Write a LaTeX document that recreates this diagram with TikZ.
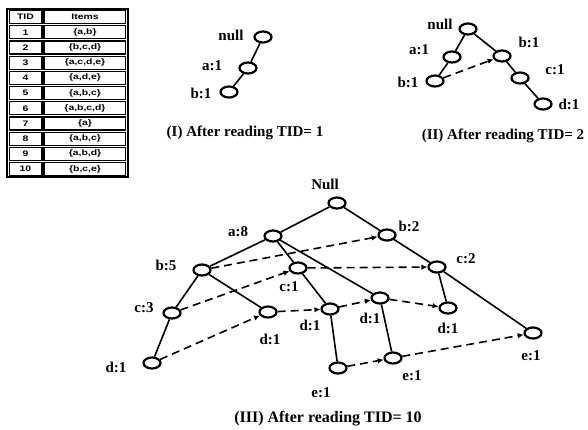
\documentclass[tikz,border=0pt]{standalone}
\usepackage{fontspec}
\setmainfont{Liberation Serif}
\newfontfamily\tabfont{Liberation Sans}
\usetikzlibrary{shapes.geometric,arrows.meta}
\begin{document}
\begin{tikzpicture}[x=1pt,y=-1pt,
  nd/.style={ellipse,draw,line width=2.2pt,minimum width=17pt,minimum height=11pt,inner sep=0pt},
  lb/.style={font=\fontsize{15}{17}\selectfont\bfseries,inner sep=0pt},
  captxt/.style={font=\fontsize{15}{17}\selectfont\bfseries,inner sep=0pt},
  captbig/.style={font=\fontsize{16}{18}\selectfont\bfseries,inner sep=0pt},
  ed/.style={line width=1.6pt},
  lk/.style={line width=1.6pt,dash pattern=on 8pt off 5pt,-{Latex[length=6pt,width=5.5pt]}},
  tt/.style={font=\tabfont\bfseries\fontsize{8}{9}\selectfont,inner sep=0pt,xscale=1.3},
]
\useasboundingbox (0,0) rectangle (588,429);

% ---------- table ----------
\draw[line width=1.2pt] (7,9) rectangle (128,177);
\foreach \i/\t/\s in {0/TID/Items,1/1/{\{a,b\}},2/2/{\{b,c,d\}},3/3/{\{a,c,d,e\}},4/4/{\{a,d,e\}},5/5/{\{a,b,c\}},6/6/{\{a,b,c,d\}},7/7/{\{a\}},8/8/{\{a,b,c\}},9/9/{\{a,b,d\}},10/10/{\{b,c,e\}}}{
  \pgfmathsetmacro{\ytop}{9+1.6+15.2*\i}
  \pgfmathsetmacro{\ybot}{9+15.2*(\i+1)-0.6}
  \draw[line width=1.1pt] (9.3,\ytop) rectangle (42,\ybot);
  \draw[line width=1.1pt] (44,\ytop) rectangle (125.7,\ybot);
  \node[tt] (tid\i) at (25.5,{(\ytop+\ybot)/2}) {\t};
  \node[tt] (itm\i) at (85,{(\ytop+\ybot)/2}) {\s};
}

% ---------- tree I ----------
\node[nd] (Inull) at (263,37) {};
\node[nd] (Ia) at (248,68) {};
\node[nd] (Ib) at (229,92) {};
\draw[ed] (Inull) -- (Ia) -- (Ib);
\node[lb] (LInull) at (231,35) {null};
\node[lb] (LIa) at (212,66) {a:1};
\node[lb] (LIb) at (201,93) {b:1};
\node[captxt] (capI) at (245,133) {(I) After reading TID= 1};

% ---------- tree II ----------
\node[nd] (IInull) at (468,29) {};
\node[nd] (IIa) at (452,57) {};
\node[nd] (IIab) at (435,81) {};
\node[nd] (IIb) at (502,56) {};
\node[nd] (IIc) at (520,78) {};
\node[nd] (IId) at (543,104) {};
\draw[ed] (IInull) -- (IIa) -- (IIab);
\draw[ed] (IInull) -- (IIb) -- (IIc) -- (IId);
\draw[lk] (IIab) -- (IIb);
\node[lb] (LIInull) at (440,24) {null};
\node[lb] (LIIa) at (419,50) {a:1};
\node[lb] (LIIab) at (408,82) {b:1};
\node[lb] (LIIb) at (529,42) {b:1};
\node[lb] (LIIc) at (555,70) {c:1};
\node[lb] (LIId) at (569,104) {d:1};
\node[captxt] (capII) at (503,136) {(II) After reading TID= 2};

% ---------- tree III ----------
\node[nd] (N) at (337,203) {};
\node[nd] (a8) at (273,236) {};
\node[nd] (b5) at (202,270) {};
\node[nd] (c1) at (298,268) {};
\node[nd] (c3) at (172,313) {};
\node[nd] (d1a) at (268,312) {};
\node[nd] (d1b) at (330,309) {};
\node[nd] (d1r) at (152,363) {};
\node[nd] (b2) at (387,235) {};
\node[nd] (c2) at (437,267) {};
\node[nd] (d1c) at (380,298) {};
\node[nd] (d1d) at (448,308) {};
\node[nd] (e1a) at (533,333) {};
\node[nd] (e1b) at (393,358) {};
\node[nd] (e1c) at (338,368) {};

\draw[ed] (N) -- (a8);
\draw[ed] (N) -- (b2);
\draw[ed] (a8) -- (b5);
\draw[ed] (a8) -- (c1);
\draw[ed] (a8) -- (d1c);
\draw[ed] (b5) -- (c3);
\draw[ed] (b5) -- (d1a);
\draw[ed] (c3) -- (d1r);
\draw[ed] (c1) -- (d1b);
\draw[ed] (d1b) -- (e1c);
\draw[ed] (d1c) -- (e1b);
\draw[ed] (b2) -- (c2);
\draw[ed] (c2) -- (d1d);
\draw[ed] (c2) -- (e1a);

\draw[lk] (b5) -- (b2);
\draw[lk] (c3) -- (c1);
\draw[lk] (c1) -- (c2);
\draw[lk] (d1r) -- (d1a);
\draw[lk] (d1a) -- (d1b);
\draw[lk] (d1b) -- (d1c);
\draw[lk] (d1c) -- (d1d);
\draw[lk] (e1c) -- (e1b);
\draw[lk] (e1b) -- (e1a);

\node[lb] (LN) at (325,184) {Null};
\node[lb] (La8) at (238,232) {a:8};
\node[lb] (Lb5) at (166,265) {b:5};
\node[lb] (Lc1) at (289,287) {c:1};
\node[lb] (Lc3) at (144,308) {c:3};
\node[lb] (Ld1a) at (270,339) {d:1};
\node[lb] (Ld1b) at (310,325) {d:1};
\node[lb] (Ld1r) at (116,367) {d:1};
\node[lb] (Lb2) at (409,226) {b:2};
\node[lb] (Lc2) at (466,259) {c:2};
\node[lb] (Ld1c) at (370,318) {d:1};
\node[lb] (Ld1d) at (448,328) {d:1};
\node[lb] (Le1a) at (531,356) {e:1};
\node[lb] (Le1b) at (412,376) {e:1};
\node[lb] (Le1c) at (321,393) {e:1};
\node[captbig] (capIII) at (328,419) {(III) After reading TID= 10};
\end{tikzpicture}
\end{document}
